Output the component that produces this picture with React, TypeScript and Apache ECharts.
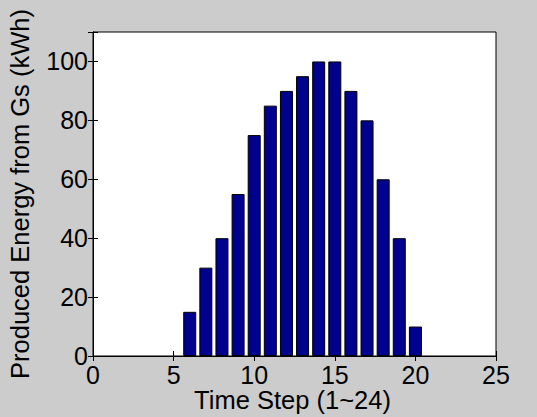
import React, { useEffect, useRef } from "react";
import * as echarts from "echarts";

const timeSteps = [6, 7, 8, 9, 10, 11, 12, 13, 14, 15, 16, 17, 18, 19, 20];
const energy = [15, 30, 40, 55, 75, 85, 90, 95, 100, 100, 90, 80, 60, 40, 10];
const xTitle = "Time Step (1~24)";
const yTitle = "Produced Energy from Gs (kWh)";

const FONT = "'Liberation Sans', Arial, sans-serif";

export default function App() {
  const ref = useRef<HTMLDivElement>(null);
  useEffect(() => {
    if (!ref.current) return;
    const chart = echarts.init(ref.current, null, { renderer: "svg" });
    const tick = { show: true, inside: true, length: 5, lineStyle: { color: "#000", width: 1 } };
    chart.setOption({
      animation: false,
      backgroundColor: "#cccccc",
      textStyle: { fontFamily: FONT },
      grid: {
        left: 93,
        top: 32,
        right: 41,
        bottom: 61,
        containLabel: false,
        outerBoundsMode: "none",
        show: true,
        backgroundColor: "#ffffff",
        borderColor: "#000000",
        borderWidth: 1,
      },
      xAxis: [
        {
          type: "value",
          min: 0,
          max: 25,
          interval: 5,
          position: "bottom",
          name: xTitle,
          nameLocation: "middle",
          nameGap: 31,
          nameMoveOverlap: false,
          nameTextStyle: { color: "#000", fontSize: 25.5, fontFamily: FONT, padding: [0, 4, 0, 0] },
          axisLine: { show: true, lineStyle: { color: "#000" } },
          axisTick: tick,
          axisLabel: { color: "#000", fontSize: 25, fontFamily: FONT, margin: 6 },
          splitLine: { show: false },
        },
        {
          type: "value",
          min: 0,
          max: 25,
          interval: 5,
          position: "top",
          axisLine: { show: true, lineStyle: { color: "#000" } },
          axisTick: tick,
          axisLabel: { show: false },
          splitLine: { show: false },
        },
      ],
      yAxis: [
        {
          type: "value",
          min: 0,
          max: 110,
          interval: 20,
          position: "left",
          name: yTitle,
          nameLocation: "middle",
          nameGap: 60,
          nameMoveOverlap: false,
          nameTextStyle: { color: "#000", fontSize: 25.5, fontFamily: FONT },
          axisLine: { show: true, lineStyle: { color: "#000" } },
          axisTick: tick,
          axisLabel: {
            color: "#000",
            fontSize: 25,
            fontFamily: FONT,
            margin: 5,
            formatter: (v: number) => (v % 20 === 0 ? String(v) : ""),
          },
          splitLine: { show: false },
        },
        {
          type: "value",
          min: 0,
          max: 110,
          interval: 20,
          position: "right",
          axisLine: { show: true, lineStyle: { color: "#000" } },
          axisTick: tick,
          axisLabel: { show: false },
          splitLine: { show: false },
        },
      ],
      series: [
        {
          type: "bar",
          xAxisIndex: 0,
          yAxisIndex: 0,
          data: timeSteps.map((t, i) => [t, energy[i]]),
          barWidth: 13,
          itemStyle: { color: "#00008f", borderColor: "#000000", borderWidth: 1 },
        },
      ],
    });
    return () => chart.dispose();
  }, []);
  return (
    <div
      ref={ref}
      style={{ position: "fixed", left: 0, top: 0, width: 537, height: 417 }}
    />
  );
}
